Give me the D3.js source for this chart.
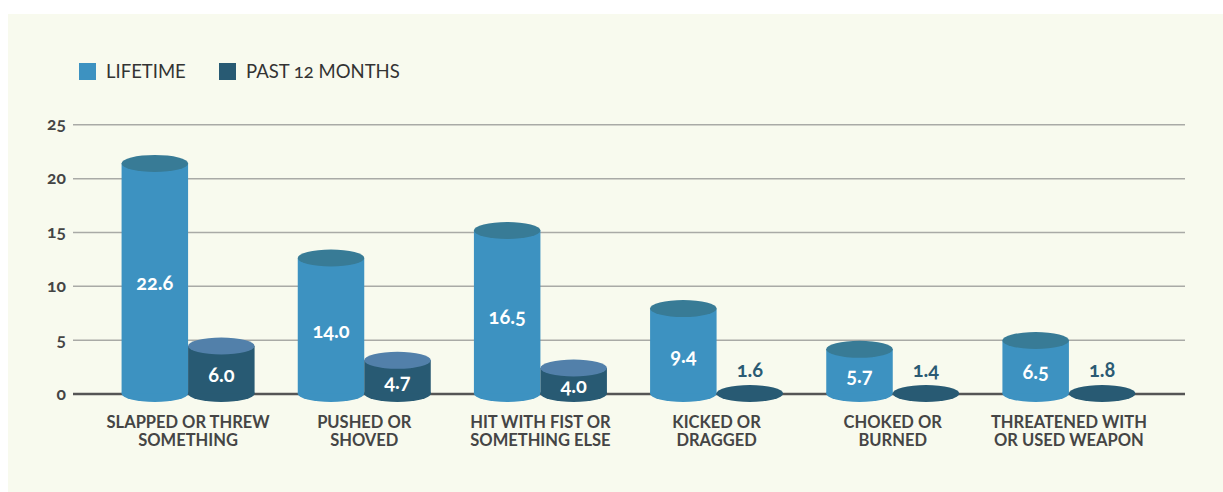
<!DOCTYPE html>
<html>
<head>
<meta charset="utf-8">
<script src="https://cdn.jsdelivr.net/npm/d3@7"></script>
<style>
  html, body { margin: 0; padding: 0; background: #ffffff; }
  svg { display: block; font-family: "Lato", "Open Sans", sans-serif; font-feature-settings: "onum" 1; }
</style>
</head>
<body>
<svg id="chart" width="1223" height="492"></svg>
<script>
// ---- data ----
const categories = [
  ["SLAPPED OR THREW", "SOMETHING"],
  ["PUSHED OR", "SHOVED"],
  ["HIT WITH FIST OR", "SOMETHING ELSE"],
  ["KICKED OR", "DRAGGED"],
  ["CHOKED OR", "BURNED"],
  ["THREATENED WITH", "OR USED WEAPON"]
];
const seriesNames = ["LIFETIME", "PAST 12 MONTHS"];
const lifetime = [22.6, 14.0, 16.5, 9.4, 5.7, 6.5];
const past12 = [6.0, 4.7, 4.0, 1.6, 1.4, 1.8];
const yTicks = [0, 5, 10, 15, 20, 25];

// ---- layout ----
const svg = d3.select("#chart");
const W = 1223, H = 492;
const plotLeft = 73, plotRight = 1185;
const colors = {
  lifeBody: "#3d92c1", lifeTop: "#387b96",
  pastBody: "#285a73", pastTop: "#5280aa"
};

svg.append("rect").attr("x", 8).attr("y", 14).attr("width", W - 8).attr("height", H - 14)
  .attr("fill", "#f8faee");

const y = d3.scaleLinear().domain([0, 25]).range([393.5, 124.3]);
// cylinder top-ellipse centre scale (as drawn in the original graphic)
const yCyl = d3.scaleLinear().domain([0, 25]).range([412, 137]);

const keys = categories.map(c => c.join(" "));
const x = d3.scaleBand().domain(keys).range([100, 1157]).padding(0);
const cw = 66.5, ry = 8.5;

// gridlines via axis
const yAxis = d3.axisLeft(y).tickValues(yTicks).tickSize(-(plotRight - plotLeft)).tickFormat(d3.format("d"));
const gAxis = svg.append("g").attr("transform", `translate(${plotLeft},0)`).call(yAxis);
gAxis.select(".domain").remove();
gAxis.selectAll(".tick line").attr("stroke", "#a9aaa6").attr("stroke-width", 1.5);
gAxis.selectAll(".tick text").attr("x", -7).attr("dy", "0.32em")
  .attr("fill", "#444").attr("font-size", 17.5).attr("font-weight", 700)
  .attr("font-family", "Lato, sans-serif");
gAxis.selectAll(".tick").filter(d => d === 0).select("line")
  .attr("stroke", "#555").attr("stroke-width", 2.6);

// cylinders
function cylinder(g, cx, v, body, top, flatColor) {
  const y0 = y(0);
  const yt = Math.min(yCyl(v), y0);
  const h = y0 - yt;
  if (h < 3) {
    g.append("ellipse").attr("cx", cx).attr("cy", y0).attr("rx", cw / 2).attr("ry", ry).attr("fill", flatColor);
    return { flat: true, yt: y0 };
  }
  g.append("ellipse").attr("cx", cx).attr("cy", y0).attr("rx", cw / 2).attr("ry", ry).attr("fill", body);
  g.append("rect").attr("x", cx - cw / 2).attr("y", yt).attr("width", cw).attr("height", h).attr("fill", body);
  g.append("ellipse").attr("cx", cx).attr("cy", yt).attr("rx", cw / 2).attr("ry", ry).attr("fill", top);
  return { flat: false, yt };
}

const gBars = svg.append("g");
keys.forEach((k, i) => {
  const c = x(k) + x.bandwidth() / 2;
  const g = gBars.append("g");
  const lx = c - cw / 2, px = c + cw / 2;
  const r1 = cylinder(g, lx, lifetime[i], colors.lifeBody, colors.lifeTop, colors.lifeBody);
  const r2 = cylinder(g, px, past12[i], colors.pastBody, colors.pastTop, colors.pastBody);
  [[lx, lifetime[i], r1], [px, past12[i], r2]].forEach(([cx, v, r]) => {
    const t = g.append("text").attr("x", cx).attr("text-anchor", "middle")
      .attr("font-size", 20).attr("font-weight", 700).text(d3.format(".1f")(v));
    if (r.flat || (y(0) - r.yt) < 20) {
      t.attr("y", y(0) - 24).attr("dy", "0.35em").attr("fill", "#2a5a73");
    } else {
      t.attr("y", (r.yt + y(0)) / 2 + 5).attr("dy", "0.35em").attr("fill", "#ffffff");
    }
  });
  const lab = svg.append("text").attr("text-anchor", "middle").attr("fill", "#454545")
    .attr("font-size", 16.5).attr("font-weight", 700).attr("font-family", "Lato, sans-serif");
  categories[i].forEach((line, j) => {
    lab.append("tspan").attr("x", c).attr("y", 428 + j * 18).text(line);
  });
});

// legend
const legend = svg.append("g");
const legX = [79, 219];
seriesNames.forEach((s, i) => {
  legend.append("rect").attr("x", legX[i]).attr("y", 63).attr("width", 17).attr("height", 17)
    .attr("fill", i === 0 ? colors.lifeBody : colors.pastBody);
  legend.append("text").attr("x", legX[i] + 27).attr("y", 72).attr("dy", "0.35em")
    .attr("font-size", 18.5).attr("fill", "#333").attr("font-family", "Lato, sans-serif").text(s);
});
</script>
</body>
</html>
